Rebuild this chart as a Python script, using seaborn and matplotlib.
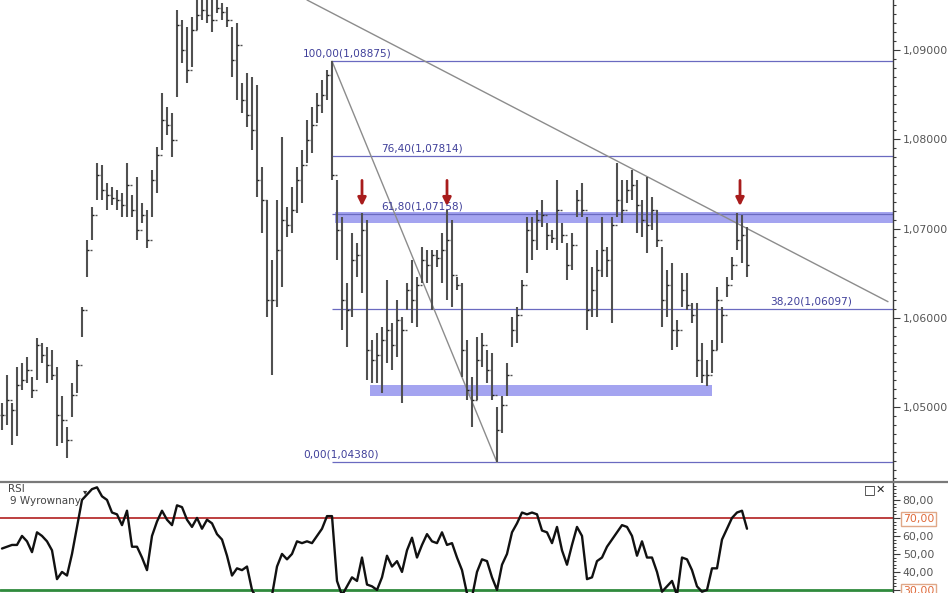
import matplotlib
matplotlib.use('Agg')
import matplotlib.pyplot as plt
import numpy as np
import pandas as pd
import seaborn as sns
from matplotlib.ticker import FuncFormatter, MultipleLocator
from matplotlib.lines import Line2D

# dzienne slupki EUR/USD
highs = [1.0505, 1.0536, 1.0505, 1.0545, 1.0549, 1.0556, 1.0534, 1.0577, 1.0572, 1.0567,
         1.0564, 1.0545, 1.0512, 1.0478, 1.0527, 1.0553, 1.0612, 1.0687, 1.0724, 1.0773,
         1.0771, 1.0751, 1.0747, 1.0743, 1.0740, 1.0773, 1.0738, 1.0758, 1.0729, 1.0721,
         1.0766, 1.0791, 1.0852, 1.0836, 1.0829, 1.0945, 1.0934, 1.0926, 1.0937, 1.0962,
         1.0962, 1.0962, 1.0956, 1.0962, 1.0953, 1.0948, 1.0926, 1.0930, 1.0863, 1.0874,
         1.0870, 1.0861, 1.0769, 1.0732, 1.0665, 1.0732, 1.0803, 1.0724, 1.0747, 1.0769,
         1.0788, 1.0822, 1.0836, 1.0852, 1.0866, 1.0878, 1.08875, 1.0754, 1.0713, 1.0639,
         1.0695, 1.0684, 1.0717, 1.0710, 1.0575, 1.0583, 1.0590, 1.0642, 1.0594, 1.0620,
         1.0601, 1.0639, 1.0665, 1.0646, 1.0679, 1.0676, 1.0676, 1.0676, 1.0695, 1.0721,
         1.0710, 1.0646, 1.0639, 1.0575, 1.0534, 1.0579, 1.0583, 1.0564, 1.0561, 1.0500,
         1.0512, 1.0549, 1.0601, 1.0612, 1.0642, 1.0713, 1.0713, 1.0721, 1.0732, 1.0706,
         1.0698, 1.0754, 1.0706, 1.0684, 1.0695, 1.0743, 1.0751, 1.0713, 1.0657, 1.0676,
         1.0713, 1.0679, 1.0713, 1.0773, 1.0754, 1.0754, 1.0766, 1.0754, 1.0732, 1.0758,
         1.0735, 1.0721, 1.0679, 1.0654, 1.0661, 1.0597, 1.0650, 1.0650, 1.0617, 1.0617,
         1.0572, 1.0553, 1.0575, 1.0635, 1.0612, 1.0646, 1.0668, 1.0717, 1.0715, 1.0702]
lows = [1.0474, 1.0480, 1.0458, 1.0467, 1.0519, 1.0527, 1.0510, 1.0530, 1.0549, 1.0527,
        1.0530, 1.0456, 1.0460, 1.0443, 1.0489, 1.0516, 1.0579, 1.0646, 1.0687, 1.0732,
        1.0732, 1.0721, 1.0726, 1.0721, 1.0713, 1.0713, 1.0713, 1.0687, 1.0706, 1.0678,
        1.0713, 1.0740, 1.0788, 1.0805, 1.0780, 1.0847, 1.0885, 1.0863, 1.0881, 1.0922,
        1.0934, 1.0930, 1.0920, 1.0941, 1.0934, 1.0926, 1.0870, 1.0844, 1.0829, 1.0814,
        1.0788, 1.0735, 1.0695, 1.0601, 1.0536, 1.0612, 1.0635, 1.0691, 1.0695, 1.0717,
        1.0729, 1.0773, 1.0785, 1.0818, 1.0829, 1.0844, 1.0754, 1.0665, 1.0586, 1.0567,
        1.0601, 1.0646, 1.0628, 1.0530, 1.0527, 1.0527, 1.0516, 1.0549, 1.0541, 1.0556,
        1.0505, 1.0609, 1.0594, 1.0590, 1.0639, 1.0639, 1.0609, 1.0657, 1.0639, 1.0620,
        1.0612, 1.0631, 1.0534, 1.0508, 1.0478, 1.0508, 1.0545, 1.0527, 1.0508, 1.0438,
        1.0471, 1.0512, 1.0567, 1.0572, 1.0609, 1.0650, 1.0665, 1.0676, 1.0702, 1.0676,
        1.0684, 1.0676, 1.0684, 1.0642, 1.0654, 1.0713, 1.0713, 1.0586, 1.0601, 1.0601,
        1.0646, 1.0646, 1.0594, 1.0713, 1.0706, 1.0729, 1.0732, 1.0695, 1.0691, 1.0673,
        1.0698, 1.0679, 1.0590, 1.0601, 1.0564, 1.0567, 1.0612, 1.0609, 1.0594, 1.0534,
        1.0527, 1.0523, 1.0538, 1.0564, 1.0572, 1.0623, 1.0642, 1.0676, 1.0661, 1.0646]
closes = [1.0491, 1.0508, 1.0497, 1.0525, 1.0530, 1.0541, 1.0519, 1.0570, 1.0558, 1.0547,
          1.0536, 1.0491, 1.0485, 1.0463, 1.0514, 1.0547, 1.0609, 1.0676, 1.0715, 1.0760,
          1.0743, 1.0738, 1.0734, 1.0732, 1.0726, 1.0749, 1.0721, 1.0698, 1.0715, 1.0687,
          1.0754, 1.0782, 1.0822, 1.0816, 1.0799, 1.0928, 1.0900, 1.0878, 1.0922, 1.0939,
          1.0945, 1.0939, 1.0934, 1.0947, 1.0943, 1.0934, 1.0889, 1.0906, 1.0844, 1.0827,
          1.0810, 1.0754, 1.0732, 1.0620, 1.0620, 1.0676, 1.0710, 1.0704, 1.0721, 1.0754,
          1.0771, 1.0799, 1.0816, 1.0838, 1.0850, 1.0872, 1.0760, 1.0698, 1.0620, 1.0609,
          1.0665, 1.0670, 1.0698, 1.0564, 1.0553, 1.0558, 1.0575, 1.0586, 1.0570, 1.0597,
          1.0586, 1.0631, 1.0620, 1.0637, 1.0665, 1.0659, 1.0670, 1.0667, 1.0676, 1.0687,
          1.0648, 1.0637, 1.0564, 1.0519, 1.0508, 1.0553, 1.0570, 1.0541, 1.0514, 1.0474,
          1.0502, 1.0536, 1.0586, 1.0603, 1.0637, 1.0698, 1.0687, 1.0710, 1.0715, 1.0693,
          1.0689, 1.0721, 1.0693, 1.0659, 1.0682, 1.0732, 1.0721, 1.0609, 1.0631, 1.0654,
          1.0676, 1.0665, 1.0704, 1.0732, 1.0721, 1.0743, 1.0749, 1.0726, 1.0710, 1.0704,
          1.0721, 1.0687, 1.0620, 1.0637, 1.0586, 1.0586, 1.0631, 1.0614, 1.0603, 1.0553,
          1.0536, 1.0536, 1.0564, 1.0620, 1.0603, 1.0637, 1.0659, 1.0687, 1.0693, 1.0659]
rsi = [53, 54, 55, 55, 60, 57, 51, 62, 60, 57, 52, 36, 40, 38, 50, 65, 80, 83, 86, 87,
       82, 80, 73, 72, 66, 74, 54, 54, 48, 41, 60, 68, 74, 69, 66, 77, 76, 69, 65, 70,
       64, 69, 67, 61, 58, 49, 38, 42, 41, 43, 30, 25, 24, 25, 27, 43, 50, 47, 50, 57,
       56, 57, 56, 60, 64, 71, 71, 35, 27, 32, 37, 35, 48, 33, 32, 30, 37, 49, 43, 46,
       40, 52, 59, 48, 55, 61, 57, 56, 62, 55, 56, 48, 41, 28, 26, 40, 47, 46, 37, 30,
       44, 50, 62, 67, 73, 72, 73, 72, 63, 62, 56, 65, 52, 44, 55, 65, 60, 36, 37, 46,
       48, 54, 58, 62, 66, 65, 60, 49, 57, 48, 48, 40, 29, 32, 35, 27, 48, 47, 41, 32,
       29, 30, 42, 42, 58, 64, 70, 73, 74, 64]

fib_ratios = [100.0, 76.4, 61.8, 38.2, 0.0]
fib_from, fib_to = 66, 99          # slupek szczytu i dolka
trend_start = (61.0, 1.0956)       # linia trendu spadkowego
trend_end = (177.2, 1.0618)
upper_band = (1.0706, 1.0719)
lower_band = (1.0512, 1.0525)
arrow_bars = [72, 89, 147.6]
price_ticks = [1.05, 1.06, 1.07, 1.08, 1.09]
rsi_ticks = [30, 40, 50, 60, 70, 80]

df = pd.DataFrame({'high': highs, 'low': lows, 'close': closes, 'rsi': rsi})
df['open'] = df['close'].shift(1).fillna(df['close'])
idx = np.arange(len(df))

sns.set_style('white')
plt.rcParams['font.family'] = ['DejaVu Sans']

W, H = 948, 593
fig = plt.figure(figsize=(W / 100, H / 100), dpi=100)
ax = fig.add_axes([0, 1 - 482 / H, 893 / W, 482 / H])
ax2 = fig.add_axes([0, 0, 893 / W, 110 / H])
xmax = (893 - 2) / 5
for a in (ax, ax2):
    a.set_xlim(-0.4, xmax)
    for s in ('top', 'left', 'bottom'):
        a.spines[s].set_visible(False)
    a.spines['right'].set_color('#3a3a3a')
    a.spines['right'].set_linewidth(1.0)
    a.set_xticks([])
    a.yaxis.tick_right()
    a.tick_params(axis='y', direction='out', length=5, width=0.8, colors='#3a3a3a',
                  labelcolor='#555555', labelsize=7.8, pad=2)

ax.set_ylim(1.0416, 1.0956)

# pasy wsparcia / oporu
ax.fill_between([66.6, xmax], upper_band[0], upper_band[1], color='#a4a4f0', lw=0, zorder=1)
ax.fill_between([73.6, 142], lower_band[0], lower_band[1], color='#a4a4f0', lw=0, zorder=1)

# zniesienia Fibonacciego
hi_p, lo_p = df['high'][fib_from], df['low'][fib_to]
lab_x = {100.0: 60.2, 76.4: 75.8, 61.8: 75.8, 38.2: 153.6, 0.0: 60.2}
for r in fib_ratios:
    lvl = lo_p + (hi_p - lo_p) * r / 100
    ax.hlines(lvl, fib_from, xmax, color='#6a6ac0', lw=0.9, zorder=2)
    txt = f"{r:.2f}({lvl:.5f})".replace('.', ',')
    ax.annotate(txt, (lab_x[r], lvl), xytext=(0, 2), textcoords='offset points',
                fontsize=7.6, color='#40409a', va='bottom', ha='left', zorder=4)

# linie trendu
ax.plot([trend_start[0], trend_end[0]], [trend_start[1], trend_end[1]], color='#8c8c8c', lw=1, zorder=2)
ax.plot([fib_from, fib_to], [hi_p, lo_p], color='#8c8c8c', lw=1, zorder=2)

# slupki OHLC
ax.vlines(idx, df['low'], df['high'], color='#505050', lw=1.5, zorder=3)
ax.hlines(df['open'], idx - 0.45, idx, color='#505050', lw=1.0, zorder=3)
ax.hlines(df['close'], idx, idx + 0.45, color='#1e1e1e', lw=1.0, zorder=3)

for b in arrow_bars:
    ax.annotate('', xy=(b, 1.0722), xytext=(b, 1.0757),
                arrowprops=dict(arrowstyle='-|>', color='#a81c1c', lw=2, mutation_scale=12),
                zorder=5)

ax.set_yticks(price_ticks)
ax.yaxis.set_minor_locator(MultipleLocator(0.001))
ax.tick_params(axis='y', which='minor', direction='out', length=2.5, width=0.8, colors='#3a3a3a')
ax.yaxis.set_major_formatter(FuncFormatter(lambda v, p: f"{v:.5f}".replace('.', ',')))

# panel RSI
ax2.set_ylim(28.3, 89.4)
ax2.axhline(70, color='#b83030', lw=1.3, zorder=1)
ax2.axhline(30, color='#2f8a3c', lw=2, zorder=1)
sns.lineplot(x=idx, y=df['rsi'], ax=ax2, color='#111111', lw=1.7, zorder=3)
ax2.set_ylabel('')
ax2.set_yticks(rsi_ticks, labels=[f"{v:.2f}".replace('.', ',') for v in rsi_ticks])
ax2.yaxis.set_minor_locator(MultipleLocator(2))
ax2.tick_params(axis='y', which='minor', direction='out', length=2, width=0.7, colors='#3a3a3a')
for t, v in zip(ax2.yaxis.get_major_ticks(), rsi_ticks):
    if v in (30, 70):
        t.label2.set_color('#e06a3a')
        t.label2.set_bbox(dict(boxstyle='square,pad=0.15', fc='white', ec='#e0a888', lw=1))

fig.add_artist(Line2D([0, 1], [1 - 482 / H] * 2, transform=fig.transFigure, color='#7a7a7a', lw=1.6))
fig.text(8 / W, 1 - 489 / H, 'RSI', fontsize=7.5, color='#444444', va='center')
fig.text(10 / W, 1 - 501 / H, '9 Wyrownany', fontsize=7.5, color='#444444', va='center')
fig.text(83 / W, 1 - 492 / H, '▾', fontsize=6, color='#333333', va='center')
fig.text(864 / W, 1 - 490 / H, '□', fontsize=9, color='#222222', va='center')
fig.text(876 / W, 1 - 490 / H, '✕', fontsize=8, color='#222222', va='center', fontweight='bold')

fig.savefig('out.png', dpi=100)
